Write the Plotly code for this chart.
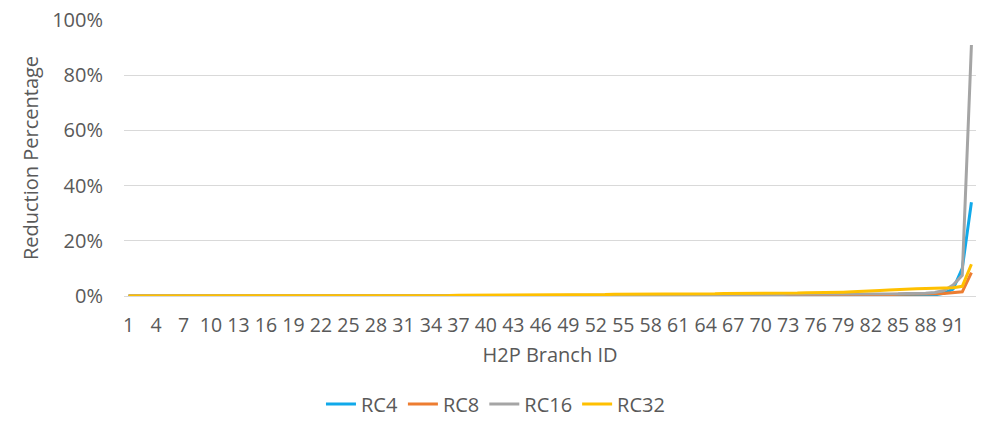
import plotly.graph_objects as go

branch_ids = [str(i) for i in range(1, 94)]
tick_labels = [str(i) for i in range(1, 94, 3)]
y_ticks = [0.0, 0.2, 0.4, 0.6, 0.8, 1.0]

# Reduction percentages (fractions)
rc4 = [0.000, 0.000, 0.000, 0.000, 0.000, 0.000, 0.000, 0.000, 0.000, 0.000,
       0.000, 0.000, 0.000, 0.000, 0.000, 0.000, 0.000, 0.000, 0.000, 0.000,
       0.000, 0.000, 0.000, 0.000, 0.000, 0.000, 0.000, 0.000, 0.000, 0.000,
       0.000, 0.000, 0.000, 0.000, 0.000, 0.000, 0.000, 0.000, 0.000, 0.000,
       0.001, 0.001, 0.001, 0.001, 0.001, 0.001, 0.001, 0.001, 0.001, 0.001,
       0.001, 0.001, 0.001, 0.001, 0.001, 0.001, 0.001, 0.001, 0.001, 0.001,
       0.001, 0.001, 0.001, 0.001, 0.001, 0.001, 0.001, 0.001, 0.001, 0.001,
       0.001, 0.001, 0.001, 0.001, 0.001, 0.001, 0.001, 0.001, 0.001, 0.001,
       0.001, 0.001, 0.001, 0.001, 0.001, 0.001, 0.001, 0.002, 0.004, 0.010,
       0.025, 0.100, 0.340]
rc8 = [0.000, 0.000, 0.000, 0.000, 0.000, 0.000, 0.000, 0.000, 0.000, 0.000,
       0.000, 0.000, 0.000, 0.000, 0.000, 0.000, 0.000, 0.000, 0.000, 0.000,
       0.000, 0.000, 0.000, 0.000, 0.000, 0.000, 0.000, 0.000, 0.000, 0.000,
       0.000, 0.000, 0.000, 0.000, 0.000, 0.000, 0.000, 0.000, 0.000, 0.000,
       0.000, 0.000, 0.000, 0.000, 0.000, 0.001, 0.001, 0.001, 0.001, 0.001,
       0.001, 0.001, 0.001, 0.001, 0.001, 0.001, 0.001, 0.001, 0.001, 0.001,
       0.002, 0.002, 0.002, 0.002, 0.002, 0.002, 0.002, 0.002, 0.002, 0.003,
       0.003, 0.003, 0.003, 0.003, 0.003, 0.003, 0.003, 0.004, 0.004, 0.004,
       0.004, 0.005, 0.005, 0.005, 0.006, 0.006, 0.007, 0.007, 0.008, 0.009,
       0.012, 0.015, 0.085]
rc16 = [0.000, 0.000, 0.000, 0.000, 0.000, 0.000, 0.000, 0.000, 0.000, 0.000,
        0.000, 0.000, 0.000, 0.000, 0.000, 0.000, 0.000, 0.000, 0.000, 0.000,
        0.000, 0.000, 0.000, 0.000, 0.001, 0.001, 0.001, 0.001, 0.001, 0.001,
        0.001, 0.001, 0.001, 0.001, 0.001, 0.001, 0.002, 0.002, 0.002, 0.002,
        0.002, 0.002, 0.002, 0.002, 0.002, 0.002, 0.002, 0.002, 0.003, 0.003,
        0.003, 0.003, 0.003, 0.003, 0.003, 0.003, 0.003, 0.004, 0.004, 0.004,
        0.004, 0.004, 0.004, 0.004, 0.004, 0.005, 0.005, 0.005, 0.005, 0.005,
        0.005, 0.005, 0.006, 0.006, 0.006, 0.006, 0.006, 0.006, 0.007, 0.007,
        0.007, 0.007, 0.008, 0.008, 0.008, 0.009, 0.009, 0.010, 0.013, 0.020,
        0.040, 0.075, 0.910]
rc32 = [0.000, 0.000, 0.000, 0.000, 0.000, 0.000, 0.000, 0.000, 0.000, 0.000,
        0.000, 0.000, 0.000, 0.000, 0.000, 0.000, 0.000, 0.000, 0.000, 0.000,
        0.001, 0.001, 0.001, 0.001, 0.001, 0.001, 0.001, 0.001, 0.001, 0.001,
        0.002, 0.002, 0.002, 0.002, 0.002, 0.002, 0.003, 0.003, 0.003, 0.003,
        0.003, 0.003, 0.004, 0.004, 0.004, 0.004, 0.004, 0.004, 0.005, 0.005,
        0.005, 0.005, 0.005, 0.006, 0.006, 0.006, 0.006, 0.007, 0.007, 0.007,
        0.007, 0.008, 0.008, 0.008, 0.008, 0.009, 0.009, 0.009, 0.010, 0.010,
        0.010, 0.011, 0.011, 0.011, 0.012, 0.012, 0.013, 0.013, 0.014, 0.015,
        0.016, 0.018, 0.020, 0.022, 0.024, 0.025, 0.026, 0.027, 0.028, 0.029,
        0.030, 0.035, 0.115]

series = [("RC4", rc4, "#10A9EA"), ("RC8", rc8, "#ED7D31"),
          ("RC16", rc16, "#A5A5A5"), ("RC32", rc32, "#FFC000")]

FONT = "Open Sans, Liberation Sans, sans-serif"
fig = go.Figure()
for name, vals, col in series:
    fig.add_trace(go.Scatter(x=branch_ids, y=vals, name=name, mode="lines",
                             line=dict(color=col, width=3)))

fig.update_layout(
    width=996, height=430,
    margin=dict(l=124, r=20, t=20, b=134, autoexpand=False),
    paper_bgcolor="white", plot_bgcolor="white",
    font=dict(family=FONT, size=19, color="#595959"),
    showlegend=True,
    legend=dict(orientation="h", x=0.436, xanchor="center", y=-0.391, yanchor="middle",
                font=dict(size=20, color="#595959"), itemwidth=30, traceorder="normal"),
)
fig.update_xaxes(
    type="category", range=[-0.5, 92.5], automargin=False,
    tickmode="array", tickvals=tick_labels, ticktext=tick_labels, tickangle=0,
    tickfont=dict(size=19.5), ticklabelstandoff=12,
    showgrid=False, showline=True, linecolor="#d9d9d9", linewidth=1,
    title=dict(text="H2P Branch ID", font=dict(size=20), standoff=10),
)
fig.update_yaxes(
    range=[0, 1.0005], tickmode="array", tickvals=y_ticks, tickformat=".0%",
    automargin=False, ticklabeloverflow="allow",
    tickfont=dict(size=20), ticklabelstandoff=20,
    showgrid=True, gridcolor="#d9d9d9", gridwidth=1, zeroline=False,
    title=dict(text="Reduction Percentage", font=dict(size=20), standoff=8),
)
fig.write_html("out.html", config={"displayModeBar": False},
               post_script="document.body.style.margin='0';document.body.style.overflow='hidden';")
